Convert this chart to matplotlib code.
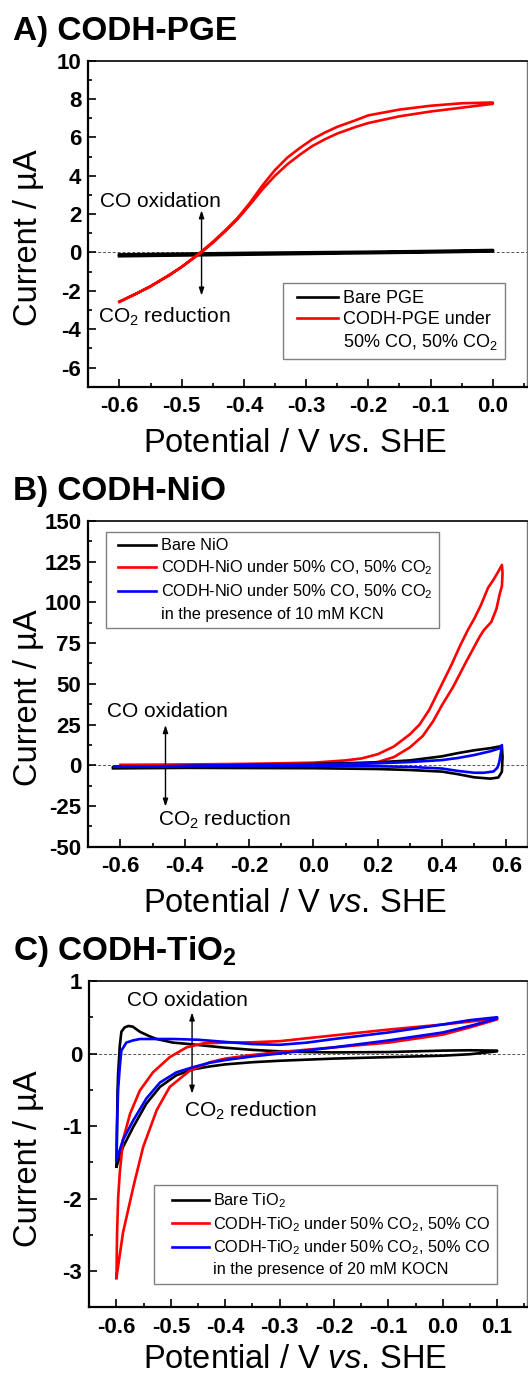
import numpy as np
import matplotlib
matplotlib.use("Agg")
import matplotlib.pyplot as plt
from matplotlib.ticker import MultipleLocator, FixedLocator, FuncFormatter
from matplotlib.lines import Line2D
from matplotlib.legend_handler import HandlerLine2D

plt.rcParams['font.family'] = ['Liberation Sans', 'DejaVu Sans']
plt.rcParams['mathtext.fontset'] = 'custom'
plt.rcParams['mathtext.rm'] = 'Liberation Sans'
plt.rcParams['mathtext.it'] = 'Liberation Sans:italic'
plt.rcParams['mathtext.bf'] = 'Liberation Sans:bold'
plt.rcParams['axes.unicode_minus'] = False

# ---------------- Panel A data (CODH-PGE) ----------------
pge_bare_fwd_x = [-0.60, -0.50, -0.40, -0.30, -0.20, -0.10, 0.00]
pge_bare_fwd_y = [-0.12, -0.08, -0.04, -0.01, 0.02, 0.06, 0.11]
pge_bare_rev_x = [0.00, -0.10, -0.20, -0.30, -0.40, -0.50, -0.60]
pge_bare_rev_y = [0.07, 0.02, -0.02, -0.06, -0.10, -0.14, -0.18]

pge_codh_fwd_x = [-0.60, -0.57, -0.55, -0.52, -0.50, -0.47, -0.45, -0.43, -0.41, -0.39,
                  -0.37, -0.35, -0.33, -0.31, -0.29, -0.27, -0.25, -0.22, -0.20, -0.15,
                  -0.10, -0.05, 0.00]
pge_codh_fwd_y = [-2.56, -2.10, -1.75, -1.20, -0.75, 0.00, 0.55, 1.15, 1.80, 2.60,
                  3.50, 4.30, 4.95, 5.45, 5.90, 6.25, 6.55, 6.90, 7.15, 7.45,
                  7.65, 7.78, 7.82]
pge_codh_rev_x = [0.00, -0.05, -0.10, -0.15, -0.20, -0.22, -0.25, -0.27, -0.29, -0.31,
                  -0.33, -0.35, -0.37, -0.39, -0.41, -0.43, -0.45, -0.47, -0.50, -0.55, -0.60]
pge_codh_rev_y = [7.75, 7.55, 7.35, 7.10, 6.75, 6.55, 6.20, 5.90, 5.55, 5.10,
                  4.60, 4.00, 3.30, 2.50, 1.75, 1.10, 0.50, -0.04, -0.76, -1.78, -2.58]

# ---------------- Panel B data (CODH-NiO) ----------------
nio_bare_x = [-0.623, -0.40, -0.20, 0.00, 0.20, 0.30, 0.40, 0.45, 0.50, 0.55, 0.586,
              0.588, 0.586, 0.575, 0.55, 0.50, 0.45, 0.40, 0.30, 0.20, 0.00, -0.20, -0.40, -0.623]
nio_bare_y = [-1.2, -0.5, 0.2, 0.8, 1.8, 3.0, 5.5, 7.5, 9.2, 10.5, 11.8,
              5.0, -4.0, -7.5, -8.2, -7.4, -5.5, -3.9, -2.9, -2.3, -1.8, -1.7, -1.6, -1.9]

nio_codh_x = [-0.60, -0.40, -0.20, 0.00, 0.10, 0.15, 0.20, 0.25, 0.30, 0.33, 0.36, 0.40,
              0.43, 0.455, 0.48, 0.50, 0.52, 0.543, 0.56, 0.575, 0.586,
              0.588, 0.586, 0.579, 0.569, 0.553, 0.53, 0.517, 0.476, 0.434, 0.40, 0.372,
              0.34, 0.30, 0.25, 0.20, 0.10, 0.00, -0.20, -0.40, -0.60]
nio_codh_y = [0.3, 0.5, 0.9, 1.6, 3.0, 4.2, 6.8, 11.5, 19.0, 25.0, 34.0, 50.0,
              62.0, 73.0, 83.0, 90.0, 98.0, 109.0, 114.0, 119.0, 123.0,
              118.0, 110.0, 105.0, 96.0, 88.0, 83.0, 79.0, 64.0, 48.0, 37.0, 27.0,
              18.0, 11.0, 5.0, 2.0, 0.3, -0.2, -0.5, -0.7, -0.8]

nio_kcn_x = [-0.618, -0.40, -0.20, 0.00, 0.20, 0.30, 0.40, 0.45, 0.50, 0.55, 0.579, 0.586,
             0.583, 0.578, 0.572, 0.56, 0.53, 0.50, 0.45, 0.40, 0.30, 0.20, 0.00, -0.20, -0.40, -0.618]
nio_kcn_y = [-0.9, -0.5, 0.0, 0.5, 1.2, 2.0, 3.2, 4.5, 6.3, 8.6, 10.4, 12.4,
             8.0, 2.0, -1.5, -3.8, -4.6, -4.6, -3.5, -2.0, -1.0, -0.6, -0.4, -0.4, -0.5, -0.9]

# ---------------- Panel C data (CODH-TiO2) ----------------
tio_bare_x = [-0.600, -0.599, -0.598, -0.597, -0.594, -0.591, -0.585, -0.578, -0.570, -0.557,
              -0.540, -0.526, -0.496, -0.465, -0.440, -0.40, -0.35, -0.30, -0.25, -0.20,
              -0.10, 0.00, 0.05, 0.10,
              0.10, 0.05, 0.00, -0.10, -0.20, -0.30, -0.35, -0.40, -0.43, -0.46, -0.49,
              -0.52, -0.545, -0.569, -0.588, -0.600]
tio_bare_y = [-1.56, -1.00, -0.50, -0.28, 0.10, 0.30, 0.36, 0.38, 0.37, 0.30,
              0.24, 0.20, 0.15, 0.13, 0.11, 0.08, 0.05, 0.03, 0.02, 0.015,
              0.02, 0.04, 0.045, 0.04,
              0.03, -0.01, -0.03, -0.05, -0.07, -0.10, -0.12, -0.15, -0.18, -0.22, -0.30,
              -0.46, -0.69, -1.01, -1.29, -1.56]

tio_codh_x = [-0.600, -0.599, -0.597, -0.594, -0.588, -0.575, -0.557, -0.533, -0.502, -0.471,
              -0.44, -0.40, -0.35, -0.30, -0.25, -0.20, -0.10, 0.00, 0.05, 0.10,
              0.10, 0.05, 0.00, -0.10, -0.20, -0.30, -0.35, -0.40, -0.428, -0.465, -0.502,
              -0.526, -0.551, -0.569, -0.588, -0.600]
tio_codh_y = [-3.10, -2.50, -2.00, -1.65, -1.19, -0.83, -0.51, -0.26, -0.05, 0.085,
              0.14, 0.15, 0.155, 0.17, 0.21, 0.25, 0.33, 0.40, 0.44, 0.48,
              0.47, 0.36, 0.26, 0.15, 0.085, 0.02, -0.02, -0.07, -0.12, -0.235, -0.46,
              -0.78, -1.29, -1.84, -2.47, -3.09]

tio_kocn_x = [-0.600, -0.599, -0.597, -0.594, -0.591, -0.582, -0.570, -0.557, -0.520, -0.496,
              -0.45, -0.40, -0.35, -0.30, -0.25, -0.20, -0.10, 0.00, 0.05, 0.10,
              0.10, 0.05, 0.00, -0.10, -0.20, -0.30, -0.35, -0.40, -0.43, -0.46, -0.49,
              -0.52, -0.545, -0.569, -0.588, -0.600]
tio_kocn_y = [-1.47, -1.00, -0.50, -0.19, 0.04, 0.15, 0.18, 0.20, 0.20, 0.20,
              0.19, 0.16, 0.13, 0.12, 0.15, 0.20, 0.29, 0.40, 0.46, 0.50,
              0.48, 0.38, 0.29, 0.18, 0.085, 0.00, -0.04, -0.09, -0.13, -0.19, -0.26,
              -0.40, -0.62, -0.92, -1.19, -1.47]

# legend rows: (colour or None for a continuation line, text)
legA_rows = [('black', 'Bare PGE'), ('red', 'CODH-PGE under'), (None, '50% CO, 50% CO$_2$')]
legB_rows = [('black', 'Bare NiO'), ('red', 'CODH-NiO under 50% CO, 50% CO$_2$'),
             ('blue', 'CODH-NiO under 50% CO, 50% CO$_2$'), (None, 'in the presence of 10 mM KCN')]
legC_rows = [('black', 'Bare TiO$_2$'), ('red', 'CODH-TiO$_2$ under 50% CO$_2$, 50% CO'),
             ('blue', 'CODH-TiO$_2$ under 50% CO$_2$, 50% CO'), (None, 'in the presence of 20 mM KOCN')]

# ---------------- Layout ----------------
W, H = 528, 1375
fig = plt.figure(figsize=(W / 100, H / 100), dpi=100)
LW = 1.9


def px_axes(left, top, right, bottom):
    return fig.add_axes([left / W, 1 - bottom / H, (right - left) / W, (bottom - top) / H])


def fmt1(v, p):
    return f"{round(v, 1) + 0.0:.1f}"


def style_axes(ax, xmaj, xmin, ymaj, ymin, yfmt):
    ax.xaxis.set_major_locator(FixedLocator(xmaj))
    ax.xaxis.set_minor_locator(MultipleLocator(xmin))
    ax.yaxis.set_major_locator(FixedLocator(ymaj))
    ax.yaxis.set_minor_locator(MultipleLocator(ymin))
    ax.xaxis.set_major_formatter(FuncFormatter(fmt1))
    ax.yaxis.set_major_formatter(FuncFormatter(yfmt))
    ax.tick_params(which='both', direction='in', top=False, right=False, width=1.2)
    ax.tick_params(which='major', length=6)
    ax.tick_params(which='minor', length=3)
    ax.tick_params(axis='x', which='major', pad=7, labelsize=16)
    ax.tick_params(axis='y', which='major', pad=5, labelsize=16)
    for lab in ax.get_xticklabels() + ax.get_yticklabels():
        lab.set_fontweight('bold')
    ax.spines['left'].set_linewidth(1.6)
    ax.spines['bottom'].set_linewidth(1.6)
    ax.spines['top'].set_linewidth(1.2)
    ax.spines['right'].set_linewidth(1.0)
    ax.spines['right'].set_color('#777777')
    ax.axhline(0, color='#555555', lw=0.7, ls=(0, (3, 2)), zorder=1)
    ax.set_xlabel(r"Potential / V $\mathit{vs.}\!$ SHE", fontsize=23.5)
    ax.set_ylabel("Current / \u00b5A", fontsize=23.5)
    ax.yaxis.label.set_verticalalignment('baseline')
    ax.xaxis.label.set_verticalalignment('baseline')


def label_pos(ax, left, top, right, bottom, xl_center, xl_base, yl_base, yl_center):
    w = right - left
    h = bottom - top
    ax.xaxis.set_label_coords((xl_center - left) / w, (bottom - xl_base) / h)
    ax.yaxis.set_label_coords((yl_base - left) / w, (bottom - yl_center) / h)


def arrow(ax, x, y0, y1):
    ax.annotate('', xy=(x, y1), xytext=(x, y0),
                arrowprops=dict(arrowstyle='<|-|>,head_length=0.45,head_width=0.15',
                                color='black', lw=1.0, shrinkA=0, shrinkB=0))


def legend(ax, rows, anchor, fs, bpad, xpad, hlen, tpad, lspace):
    handles, labels = [], []
    for col, txt in rows:
        if col is None:
            handles.append(Line2D([], [], color='none', lw=0))
        else:
            handles.append(Line2D([], [], color=col, lw=LW))
        labels.append(txt)
    leg = ax.legend(handles, labels, loc='upper left', bbox_to_anchor=anchor, borderaxespad=0,
                    fontsize=fs, frameon=True, fancybox=False, edgecolor='#808080',
                    framealpha=1, borderpad=bpad, handlelength=hlen, handletextpad=tpad,
                    labelspacing=lspace, handler_map={Line2D: HandlerLine2D(xpad=xpad)})
    leg.get_frame().set_linewidth(1.0)
    return leg


intfmt = lambda v, p: f"{int(round(v))}"

# ---------------- Panel A ----------------
A = (88.3, 60.7, 527.0, 386.7)
axA = px_axes(*A)
axA.plot(pge_bare_fwd_x + pge_bare_rev_x, pge_bare_fwd_y + pge_bare_rev_y, color='black', lw=2.4, zorder=3)
axA.plot(pge_codh_fwd_x + pge_codh_rev_x, pge_codh_fwd_y + pge_codh_rev_y, color='red', lw=LW, zorder=4)
axA.set_xlim(-0.65, 0.055)
axA.set_ylim(-7, 10)
style_axes(axA, [-0.6, -0.5, -0.4, -0.3, -0.2, -0.1, 0.0], 0.05,
           [-6, -4, -2, 0, 2, 4, 6, 8, 10], 1, intfmt)
label_pos(axA, *A, 294.7, 451.7, 37.3, 237.5)
arrow(axA, -0.468, -2.25, 2.2)
axA.text(-0.631, 2.65, "CO oxidation", fontsize=15, va='center', ha='left')
axA.text(-0.634, -3.34, "CO$_2$ reduction", fontsize=15, va='center', ha='left')
legend(axA, legA_rows, (0.4445, 0.3172), 13, 0.37, 0.37, 2.67, 0.28, 0.22)
fig.text(13 / W, 1 - 40 / H, "A) CODH-PGE", fontsize=24, fontweight='bold', va='baseline', ha='left')

# ---------------- Panel B ----------------
B = (88.3, 521.0, 527.3, 846.7)
axB = px_axes(*B)
axB.plot(nio_codh_x, nio_codh_y, color='red', lw=LW, zorder=3)
axB.plot(nio_bare_x, nio_bare_y, color='black', lw=LW, zorder=4)
axB.plot(nio_kcn_x, nio_kcn_y, color='blue', lw=LW, zorder=5)
axB.set_xlim(-0.70, 0.665)
axB.set_ylim(-50, 150)
style_axes(axB, [-0.6, -0.4, -0.2, 0.0, 0.2, 0.4, 0.6], 0.1,
           [-50, -25, 0, 25, 50, 75, 100, 125, 150], 12.5, intfmt)
label_pos(axB, *B, 294.7, 911.7, 37.3, 697.5)
arrow(axB, -0.46, -25.4, 24.7)
axB.text(-0.643, 33, "CO oxidation", fontsize=15, va='center', ha='left')
axB.text(-0.483, -33.6, "CO$_2$ reduction", fontsize=15, va='center', ha='left')
legend(axB, legB_rows, (0.0403, 0.967), 11.7, 0.4, 0.34, 2.68, 0.30, 0.33)
fig.text(13 / W, 1 - 500 / H, "B) CODH-NiO", fontsize=24, fontweight='bold', va='baseline', ha='left')

# ---------------- Panel C ----------------
C = (89.3, 981.0, 527.0, 1307.3)
axC = px_axes(*C)
axC.plot(tio_bare_x, tio_bare_y, color='black', lw=LW, zorder=3)
axC.plot(tio_codh_x, tio_codh_y, color='red', lw=LW, zorder=4)
axC.plot(tio_kocn_x, tio_kocn_y, color='blue', lw=LW, zorder=5)
axC.set_xlim(-0.65, 0.155)
axC.set_ylim(-3.5, 1)
style_axes(axC, [-0.6, -0.5, -0.4, -0.3, -0.2, -0.1, 0.0, 0.1], 0.05,
           [-3, -2, -1, 0, 1], 0.5, intfmt)
label_pos(axC, *C, 294.7, 1368.0, 37.3, 1158.3)
arrow(axC, -0.461, -0.554, 0.566)
axC.text(-0.58, 0.735, "CO oxidation", fontsize=15, va='center', ha='left')
axC.text(-0.4755, -0.797, "CO$_2$ reduction", fontsize=15, va='center', ha='left')
legend(axC, legC_rows, (0.1485, 0.3748), 11.7, 0.4, 0.67, 2.98, 0.25, 0.30)
fig.text(13 / W, 1 - 960 / H, r"C) CODH-TiO$_\mathbf{2}$", fontsize=24, fontweight='bold',
         va='baseline', ha='left')

fig.savefig("out.png", dpi=100)
